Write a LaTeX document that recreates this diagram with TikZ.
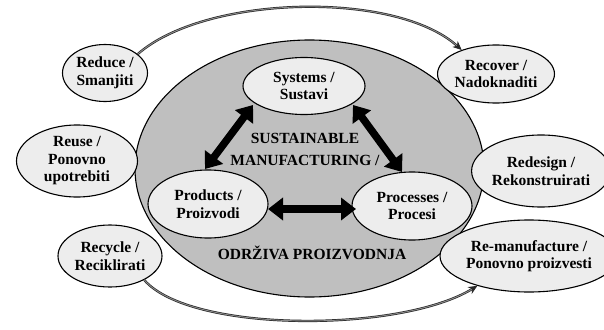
\documentclass[tikz,border=0pt]{standalone}
\usepackage{fontspec}
\setmainfont{Liberation Serif}
\usetikzlibrary{shapes.geometric,arrows.meta}
\begin{document}
\begin{tikzpicture}[x=1pt,y=-1pt,
  lbl/.style={font=\fontsize{15.5}{17.5}\selectfont\bfseries,align=center},
  oval/.style={ellipse,draw=black,line width=1.1pt,fill=black!7,inner sep=0pt,lbl},
  bigoval/.style={ellipse,draw=black,line width=1.1pt,fill=black!25,inner sep=0pt},
  bigarrow/.style={line width=7.5pt,{Triangle[width=22pt,length=15pt]}-{Triangle[width=22pt,length=15pt]}},
  cycleline/.style={draw=black!85,double=black!45,double distance=0.9pt,line width=0.7pt,-{Stealth[length=9pt,width=8pt]}}]
\useasboundingbox (0,0) rectangle (604,329);
\fill[white] (0,0) rectangle (604,329);
% big ellipse
\node[bigoval,minimum width=349pt,minimum height=257pt] (core) at (309.5,168.5) {};
% inner ellipses
\node[oval,minimum width=122pt,minimum height=57pt] (sys) at (304,86) {Systems /\\Sustavi};
\node[oval,minimum width=120pt,minimum height=68pt] (prod) at (208,204) {Products /\\Proizvodi};
\node[oval,minimum width=120pt,minimum height=68pt] (proc) at (412,206) {Processes /\\Procesi};
% central text
\node[lbl,font=\fontsize{15.5}{22}\selectfont\bfseries] (t1) at (305,149) {SUSTAINABLE\\MANUFACTURING /};
\node[lbl] (t2) at (312,253) {ODRŽIVA PROIZVODNJA};
% big arrows
\coordinate (a1) at (253,105);
\coordinate (a2) at (205,169);
\coordinate (b1) at (353,105);
\coordinate (b2) at (402,172);
\coordinate (c1) at (268,209);
\coordinate (c2) at (356,209);
\draw[bigarrow] (a1) -- (a2);
\draw[bigarrow] (b1) -- (b2);
\draw[bigarrow] (c1) -- (c2);
% outer ellipses
\node[oval,minimum width=85pt,minimum height=57pt] (reduce) at (105,73) {Reduce /\\Smanjiti};
\node[oval,minimum width=121pt,minimum height=72pt] (reuse) at (77,161) {Reuse /\\Ponovno\\upotrebiti};
\node[oval,minimum width=104pt,minimum height=62pt] (recycle) at (110,256) {Recycle /\\Reciklirati};
\node[oval,minimum width=108pt,minimum height=58pt] (recover) at (496,74) {Recover /\\Nadoknaditi};
\node[oval,minimum width=120pt,minimum height=72pt] (redesign) at (541,171) {Redesign /\\Rekonstruirati};
\node[oval,minimum width=144pt,minimum height=72pt] (reman) at (529,256) {Re-manufacture /\\Ponovno proizvesti};
% cycle connectors
\draw[cycleline] (reduce.30) .. controls (205,-5) and (395,-10) .. (recover.145);
\draw[cycleline] (recycle.-35) .. controls (190,333) and (400,333) .. (reman.-150);
\end{tikzpicture}
\end{document}
